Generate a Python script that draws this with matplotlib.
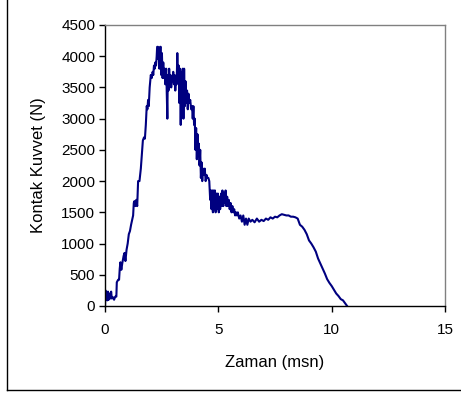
# Kontak kuvvet - zaman grafigi
import matplotlib.pyplot as plt
from matplotlib.lines import Line2D

plt.rcParams['font.family'] = ['Liberation Sans', 'DejaVu Sans']

# zaman (msn)
zaman = [0.00, 0.02, 0.05, 0.08, 0.10, 0.13, 0.16, 0.20, 0.23, 0.27, 0.30, 0.35, 0.40, 0.45, 0.50,
         0.52, 0.58, 0.62, 0.65, 0.68, 0.72, 0.76, 0.82, 0.86, 0.90, 0.95, 1.00, 1.05, 1.10, 1.15,
         1.20, 1.24, 1.27, 1.30, 1.34, 1.38, 1.42, 1.46, 1.52, 1.58, 1.63, 1.67, 1.72, 1.76, 1.80,
         1.84, 1.87, 1.90, 1.93, 1.97, 2.02, 2.06, 2.10, 2.13, 2.16, 2.19, 2.22, 2.25, 2.28, 2.30,
         2.34, 2.36, 2.38, 2.40, 2.43, 2.46, 2.48, 2.51, 2.54, 2.57, 2.60, 2.63, 2.66, 2.70, 2.73,
         2.75, 2.77, 2.80, 2.83, 2.86, 2.89, 2.92, 2.95, 2.98, 3.01, 3.04, 3.07, 3.10, 3.13, 3.16,
         3.19, 3.22, 3.25, 3.28, 3.31, 3.34, 3.37, 3.40, 3.43, 3.46, 3.49, 3.52, 3.55, 3.58, 3.62,
         3.65, 3.68, 3.72, 3.76, 3.80, 3.84, 3.87, 3.90, 3.93, 3.96, 3.99, 4.02, 4.05, 4.08, 4.11,
         4.14, 4.17, 4.20, 4.23, 4.26, 4.29, 4.32, 4.36, 4.40, 4.44, 4.48, 4.52, 4.56, 4.60, 4.64,
         4.67, 4.70, 4.73, 4.76, 4.79, 4.82, 4.85, 4.88, 4.92, 4.95, 4.98, 5.02, 5.05, 5.08, 5.12,
         5.15, 5.18, 5.22, 5.25, 5.29, 5.32, 5.35, 5.39, 5.42, 5.46, 5.50, 5.54, 5.58, 5.62, 5.66,
         5.70, 5.74, 5.78, 5.82, 5.86, 5.92, 5.98, 6.04, 6.10, 6.16, 6.22, 6.28, 6.34, 6.42, 6.50,
         6.60, 6.70, 6.80, 6.90, 7.00, 7.10, 7.20, 7.30, 7.40, 7.50, 7.60, 7.70, 7.80, 7.90, 8.00,
         8.10, 8.20, 8.30, 8.40, 8.50, 8.60, 8.70, 8.80, 8.90, 9.00, 9.10, 9.20, 9.30, 9.40, 9.50,
         9.60, 9.70, 9.80, 9.90, 10.00, 10.10, 10.20, 10.30, 10.40, 10.50, 10.60, 10.68]

# kontak kuvvet (N)
kuvvet = [0, 250, 130, 220, 90, 230, 100, 200, 120, 230, 120, 140, 100, 150, 150,
          380, 420, 420, 600, 700, 580, 680, 800, 850, 720, 900, 1000, 1150, 1200, 1300,
          1380, 1450, 1650, 1680, 1600, 1700, 1600, 2000, 2000, 2200, 2450, 2650, 2700, 2680, 2900,
          3200, 3150, 3300, 3200, 3500, 3700, 3650, 3750, 3700, 3850, 3800, 3900, 3850, 4000, 4150,
          4150, 3950, 4100, 3800, 4150, 4150, 3700, 4050, 3650, 3900, 3650, 3800, 3550, 3800, 3300,
          3000, 3700, 3450, 3800, 3550, 3700, 3500, 3650, 3600, 3750, 3550, 3700, 3450, 3650, 3550,
          4050, 3600, 3850, 3250, 3800, 2900, 3750, 3100, 3800, 3000, 3800, 3200, 3600, 3250, 3450,
          3150, 3400, 3250, 3300, 3150, 3200, 3000, 3200, 2900, 3000, 2500, 2850, 2350, 2750, 2400,
          2600, 2250, 2500, 2050, 2300, 2000, 2200, 2100, 2200, 2000, 2100, 2050, 2050, 2000, 1700,
          1850, 1550, 1850, 1500, 1850, 1550, 1850, 1500, 1800, 1550, 1800, 1500, 1750, 1550, 1800,
          1600, 1850, 1600, 1800, 1650, 1850, 1600, 1750, 1600, 1700, 1550, 1650, 1500, 1600, 1500,
          1550, 1450, 1500, 1450, 1500, 1400, 1450, 1350, 1450, 1300, 1400, 1300, 1400, 1350, 1380,
          1340, 1400, 1350, 1380, 1360, 1400, 1380, 1420, 1400, 1430, 1420, 1450, 1470, 1460, 1450,
          1450, 1430, 1430, 1420, 1400, 1300, 1270, 1220, 1150, 1050, 1000, 940, 870, 760, 680,
          600, 520, 430, 370, 320, 260, 200, 160, 110, 90, 40, 0]

x_ticks = [0, 5, 10, 15]
y_ticks = [0, 500, 1000, 1500, 2000, 2500, 3000, 3500, 4000, 4500]

fig = plt.figure(figsize=(4.61, 3.96), dpi=100)
ax = fig.add_axes([0.2278, 0.2273, 0.7375, 0.7096])

ax.plot(zaman, kuvvet, color='#000080', linewidth=1.5)

ax.set_xlim(0, 15)
ax.set_ylim(0, 4500)
ax.set_xticks(x_ticks)
ax.set_yticks(y_ticks)
ax.tick_params(direction='out', length=4, width=1, labelsize=11, pad=3)
ax.tick_params(axis='x', pad=8)

for side in ['top', 'right']:
    ax.spines[side].set_color('#808080')
for side in ['left', 'bottom']:
    ax.spines[side].set_color('black')
for s in ax.spines.values():
    s.set_linewidth(1)

ax.set_xlabel('Zaman (msn)', fontsize=12)
ax.set_ylabel('Kontak Kuvvet (N)', fontsize=12)
ax.xaxis.set_label_coords(0.5, -0.175)
ax.yaxis.set_label_coords(-0.175, 0.5)

# cerceve (sol ve alt)
fig.add_artist(Line2D([7 / 461, 7 / 461], [1, 6 / 396], transform=fig.transFigure, color='black', linewidth=1))
fig.add_artist(Line2D([7 / 461, 1], [6 / 396, 6 / 396], transform=fig.transFigure, color='black', linewidth=1))

fig.savefig('out.png', dpi=100)
